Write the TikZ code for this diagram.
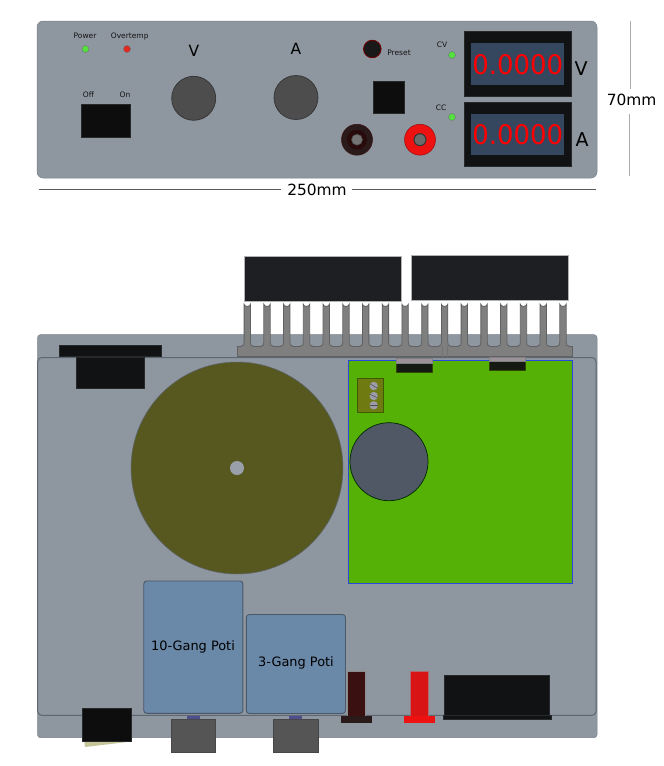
\documentclass[tikz,border=0pt]{standalone}
\usepackage{fontspec}
\setmainfont{DejaVu Sans}
\definecolor{panel}{HTML}{8E969F}
\definecolor{blk}{HTML}{101214}
\definecolor{fin}{HTML}{7F7F7F}
\definecolor{potblue}{HTML}{6A88A8}
\definecolor{knobgrey}{HTML}{4D4D4D}
\definecolor{screencol}{HTML}{35465F}
\definecolor{capcol}{HTML}{1E1F22}
\definecolor{coil}{HTML}{575720}
\definecolor{pcb}{HTML}{56B107}
\definecolor{pcbline}{HTML}{2A48D8}
\definecolor{elko}{HTML}{4F5864}
\definecolor{term}{HTML}{6F7A10}
\definecolor{termline}{HTML}{3D5C00}
\definecolor{screw}{HTML}{9C9CA8}
\definecolor{shaftcol}{HTML}{4F4F90}
\definecolor{jackdark}{HTML}{3A1010}
\definecolor{jackbase}{HTML}{2B1A1A}
\definecolor{jackred}{HTML}{D81414}
\definecolor{jackredb}{HTML}{EE1111}
\definecolor{ledgreen}{HTML}{55E040}
\definecolor{ledred}{HTML}{E02A20}
\definecolor{pinsilver}{HTML}{9A9298}
\definecolor{pcbblk}{HTML}{141A12}
\definecolor{innerline}{HTML}{5D6773}
\definecolor{potline}{HTML}{4A5868}
\definecolor{potknobc}{HTML}{555555}
\definecolor{tan}{HTML}{C4C69A}
\tikzset{
  x=1pt,y=-1pt,
  panelbox/.style={fill=panel,draw=panel!85!black,line width=.5pt},
  blackbox/.style={fill=blk,draw=blk!80!gray,line width=.5pt},
  knob/.style={fill=knobgrey,draw=black!80,line width=.7pt},
  led/.style={circle,minimum size=7pt,inner sep=0pt,draw=panel!70!black,line width=.3pt},
  lbl/.style={inner sep=0pt,font=\fontsize{7.5}{8}\selectfont,text=black!92},
  biglbl/.style={inner sep=0pt,font=\fontsize{15.5}{17}\selectfont,text=black},
  hugelbl/.style={inner sep=0pt,font=\fontsize{19}{21}\selectfont,text=black},
  dimlbl/.style={inner sep=0pt,font=\fontsize{15.4}{17}\selectfont,text=black},
  potlbl/.style={inner sep=0pt,font=\fontsize{12.9}{14}\selectfont,text=black},
  digits/.style={inner sep=0pt,text=red,font=\fontsize{27}{28}\selectfont},
  dimdark/.style={draw=black!65,line width=.8pt},
  dimlight/.style={draw=black!33,line width=1pt},
  potbox/.style={fill=potblue,draw=potline,line width=.9pt,rounded corners=3pt},
  finline/.style={draw=black!62,line width=.8pt},
  pot knob/.style={fill=potknobc,draw=black!72,line width=.6pt},
}
\begin{document}
\begin{tikzpicture}
\useasboundingbox (0,0) rectangle (664,766);
% ---------- front panel
\draw[panelbox,rounded corners=6pt] (37,21) rectangle (597,178);
\node[led,fill=ledgreen] (ledpower) at (85.5,49) {};
\node[led,fill=ledred] (ledover) at (127,49) {};
\node[lbl] (tpower) at (85,36) {Power};
\node[lbl] (tover) at (129.7,36.5) {Overtemp};
\node[biglbl] (tv) at (194,50.5) {V};
\node[biglbl] (ta) at (296,49) {A};
\draw[knob] (193.7,98.3) circle (22);
\draw[knob] (296,97.5) circle (22);
\draw[blackbox,fill=black!95] (81.7,104.3) rectangle (130.7,137.3);
\node[lbl] (toff) at (88.5,95) {Off};
\node[lbl] (ton) at (125,95) {On};
\draw[fill=black!90,draw=red!45!black,line width=.8pt] (372.3,49) circle (8.8);
\node[lbl] (tpreset) at (399,53) {Preset};
\draw[blackbox,fill=black!95] (373.3,81.7) rectangle (404.3,113.3);
% jacks
\draw[fill=jackbase,draw=jackdark,line width=.5pt] (357,139.7) circle (15.5);
\fill[jackdark!70!black] (357,139.7) circle (10);
\draw[fill=black!55,draw=black!70,line width=.5pt] (357,139.7) circle (5.5);
\draw[fill=jackredb,draw=jackred!70!black,line width=.5pt] (420,139.7) circle (15.5);
\draw[fill=black!58,draw=black!80,line width=1pt] (420,139.7) circle (6);
% CV CC
\node[lbl] (tcv) at (442,45) {CV};
\node[lbl] (tcc) at (441,107.5) {CC};
\node[led,fill=ledgreen] (ledcv) at (452,55) {};
\node[led,fill=ledgreen] (ledcc) at (452,117) {};
% displays
\draw[blackbox] (464,31.7) rectangle (571.3,96);
\fill[screencol] (471,43) rectangle (564,84.7);
\draw[blackbox] (464,102.3) rectangle (571.3,166.7);
\fill[screencol] (471,114) rectangle (564,155.3);
\node[digits] (dv) at (517.8,64.2) {\scalebox{.96}[1]{0.0000}};
\node[digits] (da) at (517.8,134.8) {\scalebox{.96}[1]{0.0000}};
\node[hugelbl] (uv) at (581,69) {V};
\node[hugelbl] (ua) at (582,140) {A};
% dimensions
\node[dimlbl] (d250) at (317,189.5) {250mm};
\coordinate (d250l) at (38.5,189.3);
\coordinate (d250r) at (596,189.3);
\draw[dimdark] (d250l) -- (281,189.3);
\draw[dimdark] (352,189.3) -- (d250r);
\node[dimlbl] (d70) at (631.7,100) {70mm};
\coordinate (d70t) at (630,21);
\coordinate (d70b) at (629,176);
\draw[dimlight] (d70t) -- (630,88.7);
\draw[dimlight] (629,114) -- (d70b);
% ---------- top view case
\draw[panelbox,rounded corners=3pt] (37.5,334.7) rectangle (597,737.7);
\draw[draw=innerline,line width=1pt,rounded corners=4pt] (37.7,357.5) rectangle (596,715.3);
% heatsink caps
\draw[fill=capcol,draw=black!30,line width=.4pt] (243.7,256) rectangle (400.7,300.7);
\draw[fill=capcol,draw=black!30,line width=.4pt] (411,255) rectangle (567.7,300.3);
% heatsink
\draw[fill=fin,finline] (237.7,346) rectangle (572.7,356.7);
\foreach \i in {0,...,16}{
  \pgfmathsetmacro{\c}{247.3+19.73*\i}
  \fill[fin] (\c-6,346.8) .. controls (\c-3.5,346.5) and (\c-3.2,345) .. (\c-3.2,342) -- (\c-3.2,304.2) arc[start angle=180,end angle=0,x radius=3.2,y radius=2.2] -- (\c+3.2,342) .. controls (\c+3.2,345) and (\c+3.5,346.5) .. (\c+6,346.8) -- cycle;
  \draw[finline] (\c-6,346) .. controls (\c-3.5,346) and (\c-3.2,345) .. (\c-3.2,342) -- (\c-3.2,304.2) arc[start angle=180,end angle=0,x radius=3.2,y radius=2.2] -- (\c+3.2,342) .. controls (\c+3.2,345) and (\c+3.5,346) .. (\c+6,346);
}
\draw[black!55,line width=.7pt] (441.9,346) -- (441.9,356.7) (447.5,346) -- (447.5,356.7);
% top-left part
\draw[blackbox] (59,345.3) rectangle (161.7,356.7);
\draw[blackbox] (76.3,357) rectangle (144.3,388.3);
% transformer
\draw[fill=coil,draw=innerline,line width=.5pt] (237,468) circle (106);
\fill[panel!90!white] (237,468) circle (7);
% PCB
\draw[fill=pcb,draw=pcbline,line width=.9pt] (348.7,360.3) rectangle (572,583.5);
\draw[fill=pcbblk,draw=termline!80!black,line width=.4pt] (396.3,362.7) rectangle (432,372);
\draw[fill=pinsilver,draw=black!50,line width=.3pt] (396.3,358.3) rectangle (432,362.7);
\draw[fill=pcbblk,draw=termline!80!black,line width=.4pt] (488.7,361.3) rectangle (524.7,370.3);
\draw[fill=pinsilver,draw=black!50,line width=.3pt] (488.7,357.3) rectangle (524.7,361.3);
\draw[fill=term,draw=termline,line width=.7pt] (357,378.3) rectangle (383.7,412);
\foreach \y/\a in {386/30,396/25,405.3/0}{
  \fill[screw] (373.7,\y) circle (4.2);
  \draw[black!70,line width=.5pt,rotate around={-\a:(373.7,\y)}] (369.5,\y) -- (377.9,\y);
}
\draw[fill=elko,draw=black!60!green!40!black,line width=.7pt] (389,461.7) circle (39);
% pots
\draw[potbox] (143.7,581) rectangle (242.9,713.3);
\draw[potbox] (246.3,614.5) rectangle (345.5,713.5);
\node[potlbl] (t10) at (193,647) {10-Gang Poti};
\node[potlbl] (t3) at (296,663) {3-Gang Poti};
\fill[shaftcol] (186.7,715.7) rectangle (200,719.3);
\fill[shaftcol] (289,715.7) rectangle (302.3,719.3);
\draw[pot knob] (171.3,719.3) rectangle (215.7,752.7);
\draw[pot knob] (273.3,719.3) rectangle (318,752.7);
% switch
\fill[tan] (84.3,741.7) -- (130,741.7) -- (85,747) -- cycle;
\draw[blackbox,fill=black!95] (82.3,708.3) rectangle (131.7,741.7);
% side jacks
\draw[fill=jackdark,draw=black!45,line width=.3pt] (347.3,671) rectangle (365.3,715.7);
\fill[jackbase] (340.7,715.7) rectangle (372,722.7);
\draw[fill=jackred,draw=panel!70!red,line width=.3pt] (410,671) rectangle (428.3,715.7);
\fill[jackredb] (403.7,715.7) rectangle (435,722.7);
% side display
\draw[blackbox] (444.7,675) rectangle (549.3,715);
\draw[blackbox] (443.3,715.3) rectangle (551,719.3);
\end{tikzpicture}
\end{document}
